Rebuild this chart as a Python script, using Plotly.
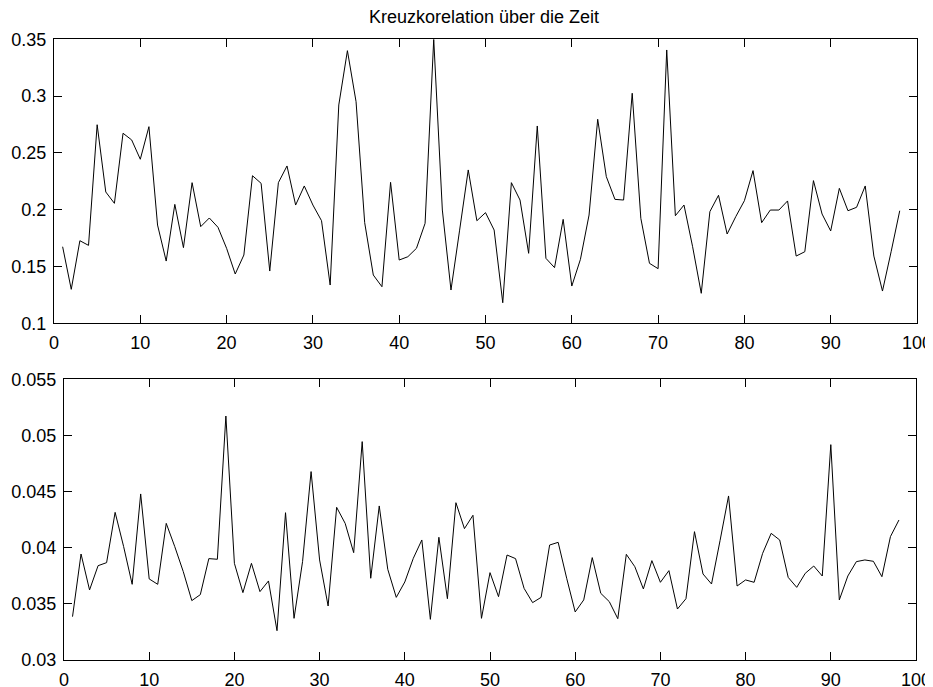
import plotly.graph_objects as go

# ---- data ----
x_vals = list(range(1, 99))

kreuz_top = [
    0.1674, 0.1299, 0.1727, 0.1686, 0.2748, 0.2156, 0.2056, 0.2673, 0.2614, 0.2444,
    0.2731, 0.1865, 0.1548, 0.2047, 0.1666, 0.2238, 0.1851, 0.1927, 0.1845, 0.1660,
    0.1434, 0.1601, 0.2299, 0.2232, 0.1460, 0.2238, 0.2385, 0.2041, 0.2209, 0.2041,
    0.1903, 0.1337, 0.2922, 0.3400, 0.2951, 0.1886, 0.1425, 0.1322, 0.2241, 0.1557,
    0.1586, 0.1660, 0.1880, 0.3500, 0.1997, 0.1293, 0.1820, 0.2350, 0.1903, 0.1974,
    0.1821, 0.1181, 0.2238, 0.2085, 0.1616, 0.2737, 0.1572, 0.1490, 0.1915, 0.1328,
    0.1563, 0.1953, 0.2796, 0.2291, 0.2091, 0.2085, 0.3025, 0.1924, 0.1528, 0.1481,
    0.3406, 0.1947, 0.2041, 0.1674, 0.1264, 0.1983, 0.2127, 0.1786, 0.1939, 0.2079,
    0.2344, 0.1886, 0.1997, 0.1997, 0.2077, 0.1592, 0.1630, 0.2256, 0.1962, 0.1813,
    0.2188, 0.1991, 0.2021, 0.2209, 0.1592, 0.1284, 0.1630, 0.1991,
]

kreuz_bottom = [
    0.03386, 0.03944, 0.03624, 0.03840, 0.03867, 0.04315, 0.04010, 0.03674, 0.04479, 0.03722,
    0.03674, 0.04217, 0.04010, 0.03787, 0.03529, 0.03582, 0.03903, 0.03897, 0.05173, 0.03861,
    0.03600, 0.03861, 0.03609, 0.03704, 0.03261, 0.04312, 0.03371, 0.03876, 0.04678, 0.03891,
    0.03481, 0.04360, 0.04217, 0.03956, 0.04945, 0.03728, 0.04372, 0.03808, 0.03558, 0.03695,
    0.03906, 0.04069, 0.03362, 0.04093, 0.03546, 0.04401, 0.04170, 0.04289, 0.03371, 0.03778,
    0.03564, 0.03935, 0.03903, 0.03638, 0.03511, 0.03558, 0.04024, 0.04048, 0.03728, 0.03428,
    0.03535, 0.03912, 0.03594, 0.03520, 0.03368, 0.03941, 0.03831, 0.03633, 0.03885, 0.03692,
    0.03796, 0.03454, 0.03546, 0.04143, 0.03766, 0.03677, 0.04063, 0.04461, 0.03659, 0.03713,
    0.03692, 0.03950, 0.04128, 0.04069, 0.03736, 0.03647, 0.03772, 0.03837, 0.03748, 0.04918,
    0.03535, 0.03748, 0.03876, 0.03891, 0.03879, 0.03742, 0.04099, 0.04247,
]

x_ticks = [0, 10, 20, 30, 40, 50, 60, 70, 80, 90, 100]
x_ticklabels = ["0", "10", "20", "30", "40", "50", "60", "70", "80", "90", "100"]
top_yticks = [0.1, 0.15, 0.2, 0.25, 0.3, 0.35]
top_yticklabels = ["0.1", "0.15", "0.2", "0.25", "0.3", "0.35"]
bottom_yticks = [0.03, 0.035, 0.04, 0.045, 0.05, 0.055]
bottom_yticklabels = ["0.03", "0.035", "0.04", "0.045", "0.05", "0.055"]
title_text = "Kreuzkorelation über die Zeit"

# page body has an 8px margin, so the figure starts at (8, 8) in the window
OFF = 8
W, H = 933 - OFF, 687 - OFF
FONT = "Liberation Sans, Arial, sans-serif"

def px_x(p):
    return (p - OFF) / W

def px_y(p):
    return 1 - (p - OFF) / H

fig = go.Figure()
fig.add_trace(go.Scatter(x=x_vals, y=kreuz_top, mode="lines",
                         line=dict(color="black", width=1), xaxis="x", yaxis="y",
                         showlegend=False, hoverinfo="skip", cliponaxis=True))
fig.add_trace(go.Scatter(x=x_vals, y=kreuz_bottom, mode="lines",
                         line=dict(color="black", width=1), xaxis="x2", yaxis="y2",
                         showlegend=False, hoverinfo="skip", cliponaxis=True))

def xax(domain, anchor):
    return dict(domain=domain, anchor=anchor, range=[0, 100], automargin=False,
                tickmode="array", tickvals=x_ticks, ticktext=x_ticklabels,
                ticks="inside", ticklen=8, tickwidth=1, tickcolor="black",
                showline=True, linecolor="black", linewidth=1.3, mirror="allticks",
                showgrid=False, zeroline=False,
                tickfont=dict(family=FONT, size=18, color="black"),
                ticklabelstandoff=3)

def yax(domain, anchor, rng, vals, labels):
    return dict(domain=domain, anchor=anchor, range=rng, automargin=False,
                tickmode="array", tickvals=vals, ticktext=labels,
                ticks="inside", ticklen=8, tickwidth=1, tickcolor="black",
                showline=True, linecolor="black", linewidth=1.3, mirror="allticks",
                showgrid=False, zeroline=False,
                tickfont=dict(family=FONT, size=18, color="black"),
                ticklabelstandoff=3)

fig.update_layout(
    width=W, height=H,
    margin=dict(l=0, r=0, t=0, b=0, autoexpand=False),
    paper_bgcolor="white", plot_bgcolor="white",
    xaxis=xax([px_x(54), px_x(917)], "y"),
    yaxis=yax([px_y(323.3), px_y(39.3)], "x", [0.1, 0.35], top_yticks, top_yticklabels),
    xaxis2=xax([px_x(64), px_x(916)], "y2"),
    yaxis2=yax([px_y(660), px_y(379.3)], "x2", [0.03, 0.055], bottom_yticks, bottom_yticklabels),
    annotations=[dict(text=title_text, xref="paper", yref="paper",
                      x=px_x(484.5), y=px_y(17), xanchor="center", yanchor="middle",
                      showarrow=False, font=dict(family=FONT, size=18, color="black"))],
)

fig.write_html("out.html")
